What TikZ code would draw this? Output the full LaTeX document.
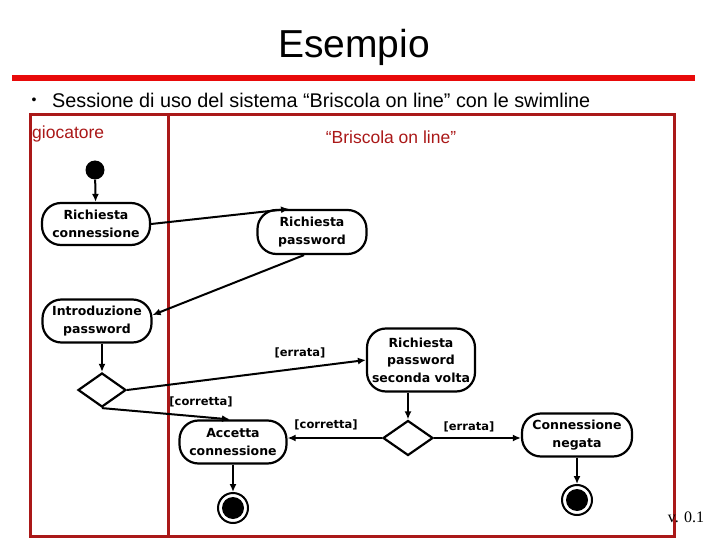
\documentclass[tikz,border=0pt]{standalone}
\usepackage{fontspec}
\setmainfont{Liberation Sans}
\newfontfamily\nodefont{DejaVu Sans}
\newfontfamily\timesfont{Liberation Serif}
\usetikzlibrary{shapes.geometric,arrows.meta,calc}
\definecolor{boxred}{RGB}{170,24,24}
\definecolor{linered}{RGB}{232,10,10}
\tikzset{
  act/.style={draw, line width=2.2pt, rounded corners=19pt, align=center, inner sep=1pt,
    font=\nodefont\bfseries\fontsize{12.5}{17.5}\selectfont},
  dec/.style={draw, diamond, line width=2.2pt, inner sep=0pt},
  flow/.style={line width=2pt, -{Latex[length=8pt,width=7pt]}},
  lbl/.style={font=\nodefont\bfseries\fontsize{11.5}{15}\selectfont, inner sep=0pt},
  startnode/.style={circle, fill=black, minimum size=19pt, inner sep=0pt},
  endnode/.style={circle, draw, line width=2pt, minimum size=30pt, inner sep=0pt},
}
\begin{document}
\begin{tikzpicture}[x=1pt,y=-1pt]
\useasboundingbox (0,0) rectangle (720,540);
% title
\node[font=\fontsize{39}{44}\selectfont, inner sep=0pt] (title) at (354,47) {Esempio};
\fill[linered] (12,75) rectangle (695,81);
\node[font=\fontsize{14}{16}\selectfont, inner sep=0pt] (bul) at (34,101) {•};
\node[font=\fontsize{19.8}{22}\selectfont, anchor=west, inner sep=0pt] (sub) at (52,100) {Sessione di uso del sistema “Briscola on line” con le swimline};
% swimlanes
\draw[boxred, line width=3pt] (30,115) rectangle (674,536);
\draw[boxred, line width=3pt] (168,115) -- (168,536);
\node[boxred, font=\fontsize{17.5}{20}\selectfont, anchor=west, inner sep=0pt] (lane1) at (32,134) {giocatore};
\node[boxred, font=\fontsize{17.5}{20}\selectfont, inner sep=0pt] (lane2) at (391,137) {“Briscola on line”};
% nodes
\node[startnode] (start) at (95,170) {};
\node[act, minimum width=108pt, minimum height=42pt] (rc) at (96,224) {Richiesta\\connessione};
\node[act, minimum width=109pt, minimum height=44pt] (rp) at (312,232) {Richiesta\\password};
\node[act, minimum width=109pt, minimum height=43pt] (ip) at (97,321) {Introduzione\\password};
\node[dec, minimum width=48pt, minimum height=34pt, aspect=1.4] (d1) at (102,390) {};
\node[act, minimum width=107pt, minimum height=43pt] (ac) at (233,442) {Accetta\\connessione};
\node[act, minimum width=108pt, minimum height=63pt] (rs) at (421,360) {Richiesta\\password\\seconda volta};
\node[dec, minimum width=50pt, minimum height=35pt, aspect=1.4] (d2) at (408,438) {};
\node[act, minimum width=110pt, minimum height=43pt] (cn) at (577,435) {Connessione\\negata};
\node[endnode] (e1) at (233,508) {};
\fill (e1.center) circle (11pt);
\node[endnode] (e2) at (577,500) {};
\fill (e2.center) circle (11pt);
% connectors
\draw[flow] (start) -- (rc);
\draw[flow] (rc.east) -- ([xshift=-23pt]rp.north);
\draw[flow] ([xshift=-8pt]rp.south) -- ([yshift=6pt]ip.east);
\draw[flow] ([xshift=5pt]ip.south) -- (d1.north);
\draw[flow] (d1.east) -- (rs.west);
\draw[flow] (d1.south) -- ([xshift=-3pt]ac.north);
\draw[flow] ([xshift=-13pt]rs.south) -- (d2.north);
\draw[flow] (d2.west) -- (d2.west -| ac.east);
\draw[flow] (d2.east) -- (d2.east -| cn.west);
\draw[flow] (ac.south) -- (e1.north);
\draw[flow] (cn.south) -- (e2.north);
% labels
\node[lbl] (l1) at (300,353) {[errata]};
\node[lbl] (l2) at (201,402) {[corretta]};
\node[lbl] (l3) at (326,425) {[corretta]};
\node[lbl] (l4) at (469,427) {[errata]};
\node[font=\timesfont\fontsize{16}{18}\selectfont, inner sep=0pt] (ver) at (686,517) {v. 0.1};
\end{tikzpicture}
\end{document}
